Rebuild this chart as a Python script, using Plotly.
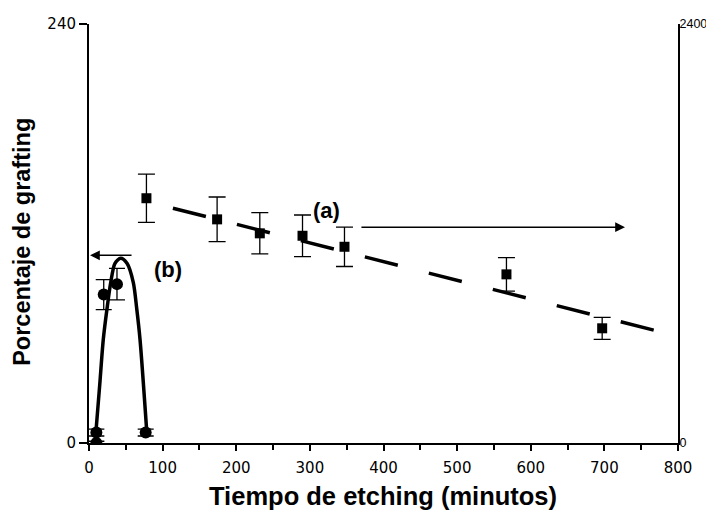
import plotly.graph_objects as go

# (a) series: squares on right axis
time_a = [78, 174, 232, 290, 347, 567, 697]
graft_a = [1402, 1281, 1201, 1187, 1124, 966, 657]
err_a = [138, 128, 118, 119, 113, 96, 63]

# (a) fitted dashed line (right axis)
fit_a_x = [114, 800]
fit_a_y = [1345, 611]

# (b) series: circles on left axis
time_b = [10, 10, 20, 38, 77]
graft_b = [6, 0, 85, 91, 6]
err_b = [2, 1, 8.6, 9, 2]

# (b) curve points (left axis)
curve_b_x = [9.5, 14.5, 19.4, 24.5, 29.5, 35.3, 43.1, 51.6, 60.2, 64.8, 69.3, 78.4]
curve_b_y = [6.8, 33.0, 59.3, 77.0, 91.9, 102.9, 105.8, 102.9, 91.9, 77.0, 59.3, 6.8]

x_ticks = [0, 100, 200, 300, 400, 500, 600, 700, 800]
y_ticks = [0, 240]
y2_ticks = [0, 2400]

tickfont = dict(family="DejaVu Sans", size=15, color="black")
tickfont_r = dict(family="Liberation Sans", size=12.5, color="black")
titlefont_x = dict(family="Liberation Sans", size=25.5, color="black", weight="bold")
titlefont_y = dict(family="Liberation Sans", size=23.5, color="black", weight="bold")

fig = go.Figure()

fig.add_trace(go.Scatter(
    x=curve_b_x, y=curve_b_y, mode="lines", line=dict(color="black", width=3.5, shape="spline", smoothing=0.8),
    yaxis="y", showlegend=False, hoverinfo="skip"))

fig.add_trace(go.Scatter(
    x=fit_a_x, y=fit_a_y, mode="lines", line=dict(color="black", width=3.5, dash="34px,32px"),
    yaxis="y2", showlegend=False, hoverinfo="skip"))

fig.add_trace(go.Scatter(
    x=time_b, y=graft_b, mode="markers",
    marker=dict(symbol="circle", size=12, color="black"),
    error_y=dict(type="data", array=err_b, color="black", thickness=1.3, width=8),
    yaxis="y", showlegend=False))

fig.add_trace(go.Scatter(
    x=time_a, y=graft_a, mode="markers",
    marker=dict(symbol="square", size=10, color="black"),
    error_y=dict(type="data", array=err_a, color="black", thickness=1.3, width=8.5),
    yaxis="y2", showlegend=False))

annot = [
    dict(x=323, y=133.3, xref="x", yref="y", text="<b>(a)</b>", showarrow=False,
         font=dict(family="Liberation Sans", size=22, color="black")),
    dict(x=107.3, y=99.5, xref="x", yref="y", text="<b>(b)</b>", showarrow=False,
         font=dict(family="Liberation Sans", size=22, color="black")),
    dict(x=728, y=123.6, ax=368, ay=123.6, xref="x", yref="y", axref="x", ayref="y",
         text="", showarrow=True, arrowhead=2, arrowsize=1.4, arrowwidth=1.4, arrowcolor="black"),
    dict(x=1.4, y=107.5, ax=59.8, ay=107.5, xref="x", yref="y", axref="x", ayref="y",
         text="", showarrow=True, arrowhead=2, arrowsize=1.4, arrowwidth=1.4, arrowcolor="black"),
    dict(x=0.4992, y=-0.1275, xref="paper", yref="paper", text="<b>Tiempo de etching (minutos)</b>",
         showarrow=False, xanchor="center", yanchor="middle", font=titlefont_x),
    dict(x=-0.1138, y=0.48, xref="paper", yref="paper", text="<b>Porcentaje de grafting</b>",
         showarrow=False, xanchor="center", yanchor="middle", textangle=-90, font=titlefont_y),
]

fig.update_layout(
    width=706, height=519,
    margin=dict(l=89, r=28, t=24, b=76),
    paper_bgcolor="white", plot_bgcolor="white",
    annotations=annot,
    xaxis=dict(range=[0, 800], tickvals=x_ticks, ticktext=[str(v) for v in x_ticks],
               showline=True, linecolor="black", linewidth=2, mirror=False, automargin=False,
               ticks="outside", ticklen=6, tickwidth=1.5, tickcolor="black", ticklabelstandoff=4,
               minor=dict(dtick=50, ticks="outside", ticklen=5, tickwidth=1.5, tickcolor="black"),
               showgrid=False, zeroline=False, tickfont=tickfont),
    yaxis=dict(range=[0, 240], tickvals=y_ticks, ticktext=[str(v) for v in y_ticks],
               showline=True, linecolor="black", linewidth=2, automargin=False,
               ticks="outside", ticklen=8, tickwidth=1.5, tickcolor="black",
               showgrid=False, zeroline=False, tickfont=tickfont),
    yaxis2=dict(range=[0, 2400], tickvals=y2_ticks, ticktext=[str(v) for v in y2_ticks],
                overlaying="y", side="right", automargin=False,
                showline=True, linecolor="black", linewidth=2, ticklabelstandoff=-3,
                ticks="", showgrid=False, zeroline=False, tickfont=tickfont_r),
)

fig.write_html("out.html")
